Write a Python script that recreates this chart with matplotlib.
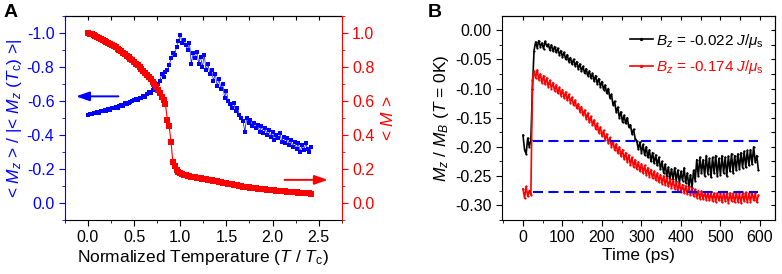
import numpy as np
import matplotlib
matplotlib.use('Agg')
import matplotlib.pyplot as plt
from matplotlib.ticker import MultipleLocator

plt.rcParams['font.family'] = ['Liberation Sans', 'DejaVu Sans']
plt.rcParams['mathtext.fontset'] = 'custom'
plt.rcParams['mathtext.rm'] = 'Liberation Sans'
plt.rcParams['mathtext.it'] = 'Liberation Sans:italic'
plt.rcParams['axes.unicode_minus'] = False

# ---- panel A data (step 0.02 in T/Tc)
mz_norm = [-0.520, -0.522, -0.525, -0.528, -0.530, -0.534, -0.532, -0.538, -0.540, -0.545,
           -0.542, -0.550, -0.548, -0.556, -0.560, -0.565, -0.558, -0.570, -0.575, -0.568,
           -0.585, -0.580, -0.590, -0.595, -0.600, -0.605, -0.610, -0.605, -0.620, -0.615,
           -0.630, -0.625, -0.640, -0.650, -0.645, -0.665, -0.680, -0.670, -0.700, -0.720,
           -0.760, -0.740, -0.770, -0.780, -0.810, -0.850, -0.880, -0.870, -0.920, -0.950,
           -0.990, -0.940, -0.960, -0.930, -0.900, -0.940, -0.820, -0.880, -0.850, -0.890,
           -0.820, -0.860, -0.800, -0.870, -0.780, -0.820, -0.760, -0.780, -0.720, -0.760,
           -0.690, -0.730, -0.670, -0.700, -0.620, -0.660, -0.600, -0.580, -0.560, -0.590,
           -0.540, -0.560, -0.520, -0.500, -0.480, -0.420, -0.500, -0.470, -0.490, -0.450,
           -0.470, -0.440, -0.460, -0.420, -0.450, -0.410, -0.440, -0.400, -0.430, -0.390,
           -0.420, -0.370, -0.400, -0.380, -0.410, -0.360, -0.390, -0.350, -0.380, -0.340,
           -0.370, -0.330, -0.360, -0.320, -0.350, -0.300, -0.340, -0.310, -0.350, -0.320,
           -0.300, -0.330]
m_abs = [1.000, 0.996, 0.991, 0.986, 0.981, 0.976, 0.971, 0.965, 0.960, 0.954,
         0.948, 0.942, 0.935, 0.929, 0.922, 0.915, 0.908, 0.900, 0.892, 0.884,
         0.876, 0.867, 0.858, 0.849, 0.840, 0.830, 0.820, 0.810, 0.800, 0.789,
         0.778, 0.766, 0.754, 0.742, 0.728, 0.714, 0.700, 0.684, 0.666, 0.645,
         0.625, 0.605, 0.580, 0.490, 0.450, 0.360, 0.240, 0.215, 0.195, 0.185,
         0.176, 0.170, 0.166, 0.163, 0.160, 0.157, 0.155, 0.153, 0.151, 0.149,
         0.147, 0.145, 0.143, 0.141, 0.139, 0.137, 0.135, 0.133, 0.131, 0.129,
         0.127, 0.125, 0.122, 0.120, 0.118, 0.115, 0.113, 0.111, 0.109, 0.107,
         0.105, 0.103, 0.101, 0.099, 0.097, 0.095, 0.093, 0.092, 0.090, 0.089,
         0.087, 0.086, 0.085, 0.083, 0.082, 0.081, 0.080, 0.078, 0.077, 0.076,
         0.075, 0.074, 0.073, 0.072, 0.071, 0.070, 0.069, 0.068, 0.067, 0.066,
         0.065, 0.064, 0.063, 0.062, 0.061, 0.060, 0.059, 0.058, 0.057, 0.057,
         0.056, 0.055]
temp = np.arange(len(m_abs)) * 0.02

# ---- panel B data (step 4 ps)
bz_small = [-0.180, -0.205, -0.212, -0.185, -0.200, -0.188, -0.100, -0.035, -0.020, -0.030,
            -0.018, -0.028, -0.022, -0.032, -0.019, -0.027, -0.024, -0.034, -0.025, -0.036,
            -0.028, -0.038, -0.031, -0.042, -0.035, -0.046, -0.038, -0.050, -0.042, -0.054,
            -0.047, -0.058, -0.050, -0.061, -0.054, -0.066, -0.058, -0.070, -0.062, -0.074,
            -0.066, -0.078, -0.070, -0.082, -0.074, -0.087, -0.078, -0.092, -0.083, -0.097,
            -0.088, -0.102, -0.094, -0.108, -0.100, -0.116, -0.110, -0.128, -0.122, -0.140,
            -0.132, -0.150, -0.140, -0.158, -0.146, -0.160, -0.150, -0.166, -0.162, -0.178,
            -0.170, -0.186, -0.190, -0.204, -0.192, -0.210, -0.196, -0.214, -0.200, -0.218,
            -0.205, -0.225, -0.210, -0.228, -0.214, -0.232, -0.218, -0.238, -0.225, -0.245,
            -0.230, -0.250, -0.235, -0.255, -0.238, -0.256, -0.236, -0.258, -0.240, -0.262,
            -0.242, -0.258, -0.236, -0.262, -0.245, -0.268, -0.248, -0.270, -0.240, -0.258,
            -0.222, -0.250, -0.218, -0.245, -0.222, -0.250, -0.215, -0.246, -0.220, -0.252,
            -0.218, -0.245, -0.215, -0.250, -0.220, -0.248, -0.215, -0.245, -0.218, -0.250,
            -0.216, -0.242, -0.212, -0.245, -0.215, -0.240, -0.212, -0.238, -0.210, -0.236,
            -0.208, -0.235, -0.206, -0.232, -0.205, -0.230, -0.200, -0.226, -0.215, -0.240]
bz_large = [-0.272, -0.288, -0.268, -0.285, -0.275, -0.282, -0.085, -0.070, -0.082, -0.068,
            -0.085, -0.075, -0.090, -0.078, -0.093, -0.082, -0.097, -0.086, -0.100, -0.090,
            -0.104, -0.094, -0.108, -0.098, -0.112, -0.102, -0.116, -0.106, -0.120, -0.110,
            -0.124, -0.115, -0.129, -0.120, -0.134, -0.126, -0.140, -0.131, -0.146, -0.137,
            -0.152, -0.142, -0.158, -0.148, -0.163, -0.154, -0.170, -0.160, -0.176, -0.166,
            -0.182, -0.172, -0.188, -0.178, -0.194, -0.184, -0.200, -0.190, -0.206, -0.195,
            -0.211, -0.200, -0.216, -0.205, -0.221, -0.210, -0.226, -0.214, -0.231, -0.218,
            -0.235, -0.222, -0.238, -0.226, -0.242, -0.229, -0.245, -0.232, -0.248, -0.236,
            -0.251, -0.239, -0.254, -0.242, -0.257, -0.245, -0.260, -0.248, -0.263, -0.250,
            -0.265, -0.253, -0.268, -0.256, -0.270, -0.258, -0.272, -0.261, -0.275, -0.263,
            -0.277, -0.265, -0.279, -0.267, -0.281, -0.269, -0.283, -0.271, -0.285, -0.273,
            -0.287, -0.275, -0.289, -0.276, -0.290, -0.277, -0.291, -0.278, -0.292, -0.278,
            -0.293, -0.279, -0.294, -0.279, -0.292, -0.280, -0.295, -0.278, -0.293, -0.280,
            -0.296, -0.279, -0.293, -0.280, -0.295, -0.278, -0.294, -0.280, -0.296, -0.279,
            -0.293, -0.278, -0.295, -0.280, -0.294, -0.278, -0.292, -0.280, -0.295, -0.283]
time_ps = np.arange(len(bz_small)) * 4
ref_levels = [-0.19, -0.277]
ref_span = [25, 595]

BLUE = '#0000ff'
RED = '#ff0000'

fig = plt.figure(figsize=(7.82, 2.74), dpi=100)

# ================= panel A
ax1 = fig.add_axes([0.083, 0.197, 0.354, 0.745])
ax2 = ax1.twinx()

ax1.plot(temp, mz_norm, color=BLUE, lw=0.5, marker='s', ms=2.4, mec=BLUE, mew=0)
ax2.plot(temp, m_abs, color=RED, lw=0.8, marker='s', ms=4.3, mec=RED, mew=0)

ax1.set_xlim(-0.25, 2.75)
ax1.set_ylim(0.1, -1.1)
ax2.set_ylim(-0.1, 1.1)
ax1.set_xticks([0.0, 0.5, 1.0, 1.5, 2.0, 2.5])
ax1.set_xticklabels(['0.0', '0.5', '1.0', '1.5', '2.0', '2.5'])
ax1.xaxis.set_minor_locator(MultipleLocator(0.25))
ax1.set_yticks([0.0, -0.2, -0.4, -0.6, -0.8, -1.0])
ax1.set_yticklabels(['0.0', '-0.2', '-0.4', '-0.6', '-0.8', '-1.0'])
ax1.yaxis.set_minor_locator(MultipleLocator(0.1))
ax2.set_yticks([0.0, 0.2, 0.4, 0.6, 0.8, 1.0])
ax2.set_yticklabels(['0.0', '0.2', '0.4', '0.6', '0.8', '1.0'])
ax2.yaxis.set_minor_locator(MultipleLocator(0.1))

ax1.spines['left'].set_color(BLUE)
ax1.spines['right'].set_visible(False)
for s in ['left', 'top', 'bottom']:
    ax2.spines[s].set_visible(False)
ax2.spines['right'].set_color(RED)

ax1.tick_params(axis='x', which='both', direction='out', labelsize=11.5, top=False)
ax1.tick_params(axis='x', which='major', length=4)
ax1.tick_params(axis='x', which='minor', length=2.5)
ax1.tick_params(axis='y', which='both', direction='out', colors=BLUE, labelsize=11.5)
ax1.tick_params(axis='y', which='major', length=4)
ax1.tick_params(axis='y', which='minor', length=2.5)
ax2.tick_params(axis='y', which='both', direction='out', colors=RED, labelsize=11.5)
ax2.tick_params(axis='y', which='major', length=4)
ax2.tick_params(axis='y', which='minor', length=2.5)

topA = ax1.secondary_xaxis('top')
topA.set_xticks(np.arange(-0.25, 2.76, 0.25))
topA.tick_params(direction='in', length=3, labeltop=False)

ax1.set_xlabel(r'Normalized Temperature ($T$ / $T_\mathrm{c}$)', fontsize=12.5, labelpad=2)
ax1.set_ylabel(r'< $M_z$ > / |< $M_z$ ($T_\mathrm{c}$) >|', fontsize=12.5, color=BLUE, labelpad=2)
ax2.set_ylabel(r'< $M$ >', fontsize=12.5, color=RED, labelpad=4)

ax1.annotate('', xy=(-0.16, -0.627), xytext=(0.36, -0.627),
             arrowprops=dict(arrowstyle='-|>,head_length=0.8,head_width=0.28', color=BLUE, lw=1.4))
ax2.annotate('', xy=(2.63, 0.136), xytext=(2.10, 0.136),
             arrowprops=dict(arrowstyle='-|>,head_length=0.8,head_width=0.28', color=RED, lw=1.4))
ax2.set_zorder(ax1.get_zorder() + 1)
ax2.patch.set_visible(False)

fig.text(0.004, 0.985, 'A', fontsize=14, fontweight='bold', va='top', ha='left')

# ================= panel B
ax = fig.add_axes([0.642, 0.197, 0.349, 0.745])
ax.plot(time_ps, bz_small, color='black', lw=1.2, marker='o', ms=1.6, mew=0,
        label=r'$B_z$ = -0.022 $J/\mu_\mathrm{s}$')
ax.plot(time_ps, bz_large, color=RED, lw=1.2, marker='o', ms=1.6, mew=0,
        label=r'$B_z$ = -0.174 $J/\mu_\mathrm{s}$')
for lvl in ref_levels:
    ax.hlines(lvl, ref_span[0], ref_span[1], colors=BLUE, lw=1.5, linestyles=(0, (4.8, 2.6)))

ax.set_xlim(-53, 638)
ax.set_ylim(-0.3255, 0.0245)
ax.set_xticks([0, 100, 200, 300, 400, 500, 600])
ax.xaxis.set_minor_locator(MultipleLocator(50))
ax.set_yticks([0.0, -0.05, -0.10, -0.15, -0.20, -0.25, -0.30])
ax.set_yticklabels(['0.00', '-0.05', '-0.10', '-0.15', '-0.20', '-0.25', '-0.30'])
ax.yaxis.set_minor_locator(MultipleLocator(0.025))
ax.tick_params(which='both', direction='out', labelsize=11.5)
ax.tick_params(which='major', length=4)
ax.tick_params(which='minor', length=2.5)

topB = ax.secondary_xaxis('top')
topB.set_xticks(np.arange(0, 601, 50))
topB.tick_params(direction='in', length=3, labeltop=False)
rightB = ax.secondary_yaxis('right')
rightB.set_yticks(np.arange(-0.3, 0.01, 0.025))
rightB.tick_params(direction='in', length=3, labelright=False)

ax.set_xlabel('Time (ps)', fontsize=12.5, labelpad=2)
ax.set_ylabel(r'$M_z$ / $M_B$ ($T$ = 0K)', fontsize=12.5, labelpad=3)

leg = ax.legend(loc='upper right', bbox_to_anchor=(1.01, 0.99), frameon=False, fontsize=11,
                handlelength=1.5, handletextpad=0.2, labelspacing=0.55, markerscale=1.5,
                labelcolor='linecolor')

fig.text(0.547, 0.985, 'B', fontsize=14, fontweight='bold', va='top', ha='left')

fig.savefig('out.png', dpi=100)
